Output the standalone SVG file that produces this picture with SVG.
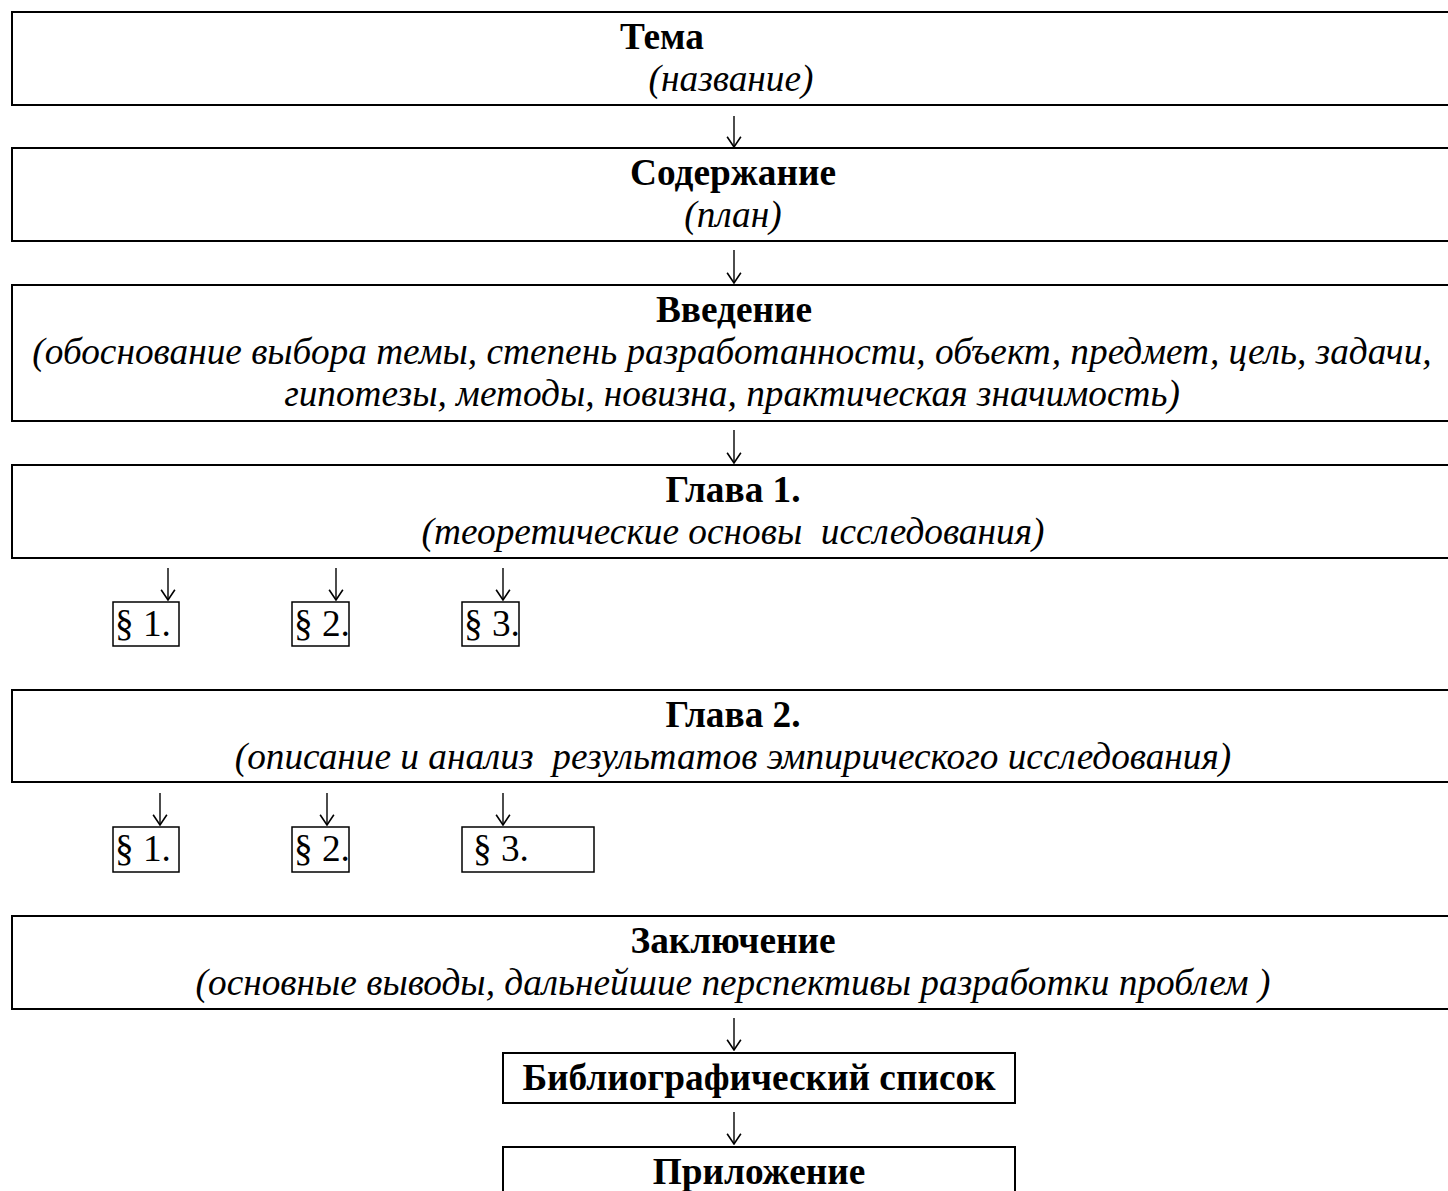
<svg xmlns="http://www.w3.org/2000/svg" width="1448" height="1191" viewBox="0 0 1448 1191">
<defs>
<style>
.box{fill:#fff;stroke:#000;stroke-width:2}
.sbox{fill:#fff;stroke:#000;stroke-width:1.5}
.h{font-family:"Liberation Serif","Times New Roman",serif;font-weight:bold;font-size:37.3px;fill:#000;text-anchor:middle}
.i{font-family:"Liberation Serif","Times New Roman",serif;font-style:italic;font-size:37.3px;fill:#000;text-anchor:middle;white-space:pre}
.p{font-family:"Liberation Serif","Times New Roman",serif;font-size:37.3px;fill:#000}
.c{fill:none;stroke:#000;stroke-width:1.4}
</style>
<marker id="ah" markerUnits="userSpaceOnUse" markerWidth="14" markerHeight="16" refX="11" refY="7" orient="auto" viewBox="0 0 12 14">
<path d="M2,1 L11,7 L2,13" fill="none" stroke="#000" stroke-width="1.4"/>
</marker>
</defs>
<rect width="1448" height="1191" fill="#fff"/>

<g id="connectors">
<path class="c" d="M734,116 V147" marker-end="url(#ah)"/>
<path class="c" d="M734,250 V283" marker-end="url(#ah)"/>
<path class="c" d="M734,430 V463" marker-end="url(#ah)"/>
<path class="c" d="M168,568 V600" marker-end="url(#ah)"/>
<path class="c" d="M336,568 V600" marker-end="url(#ah)"/>
<path class="c" d="M503,568 V600" marker-end="url(#ah)"/>
<path class="c" d="M160,793 V825" marker-end="url(#ah)"/>
<path class="c" d="M327,793 V825" marker-end="url(#ah)"/>
<path class="c" d="M503,793 V825" marker-end="url(#ah)"/>
<path class="c" d="M734,1018 V1050" marker-end="url(#ah)"/>
<path class="c" d="M734,1112 V1144" marker-end="url(#ah)"/>
</g>

<g id="tema">
<rect class="box" x="12" y="12" width="1446" height="93"/>
<text class="h" x="662" y="49">Тема</text>
<text class="i" x="731" y="91">(название)</text>
</g>

<g id="soderzhanie">
<rect class="box" x="12" y="148" width="1446" height="93"/>
<text class="h" x="733" y="185">Содержание</text>
<text class="i" x="733" y="227">(план)</text>
</g>

<g id="vvedenie">
<rect class="box" x="12" y="285" width="1446" height="136"/>
<text class="h" x="734" y="322">Введение</text>
<text class="i" x="732" y="364">(обоснование выбора темы, степень разработанности, объект, предмет, цель, задачи,</text>
<text class="i" x="732" y="406">гипотезы, методы, новизна, практическая значимость)</text>
</g>

<g id="glava1">
<rect class="box" x="12" y="465" width="1446" height="93"/>
<text class="h" x="733" y="502">Глава 1.</text>
<text class="i" x="733" y="544">(теоретические основы  исследования)</text>
</g>

<g id="g1p1"><rect class="sbox" x="113" y="602" width="66" height="44"/><text class="p" x="115" y="636">§ 1.</text></g>
<g id="g1p2"><rect class="sbox" x="292" y="602" width="57" height="44"/><text class="p" x="294" y="636">§ 2.</text></g>
<g id="g1p3"><rect class="sbox" x="462" y="602" width="57" height="44"/><text class="p" x="464" y="636">§ 3.</text></g>

<g id="glava2">
<rect class="box" x="12" y="690" width="1446" height="92"/>
<text class="h" x="733" y="727">Глава 2.</text>
<text class="i" x="733" y="769">(описание и анализ  результатов эмпирического исследования)</text>
</g>

<g id="g2p1"><rect class="sbox" x="113" y="827" width="66" height="45"/><text class="p" x="115" y="861">§ 1.</text></g>
<g id="g2p2"><rect class="sbox" x="292" y="827" width="57" height="45"/><text class="p" x="294" y="861">§ 2.</text></g>
<g id="g2p3"><rect class="sbox" x="462" y="827" width="132" height="45"/><text class="p" x="473" y="861">§ 3.</text></g>

<g id="zakl">
<rect class="box" x="12" y="916" width="1446" height="93"/>
<text class="h" x="733" y="953">Заключение</text>
<text class="i" x="733" y="995">(основные выводы, дальнейшие перспективы разработки проблем )</text>
</g>

<g id="biblio">
<rect class="box" x="503" y="1053" width="512" height="50"/>
<text class="h" x="759" y="1090">Библиографический список</text>
</g>

<g id="prilozh">
<rect class="box" x="503" y="1147" width="512" height="60"/>
<text class="h" x="759" y="1184">Приложение</text>
</g>
</svg>
